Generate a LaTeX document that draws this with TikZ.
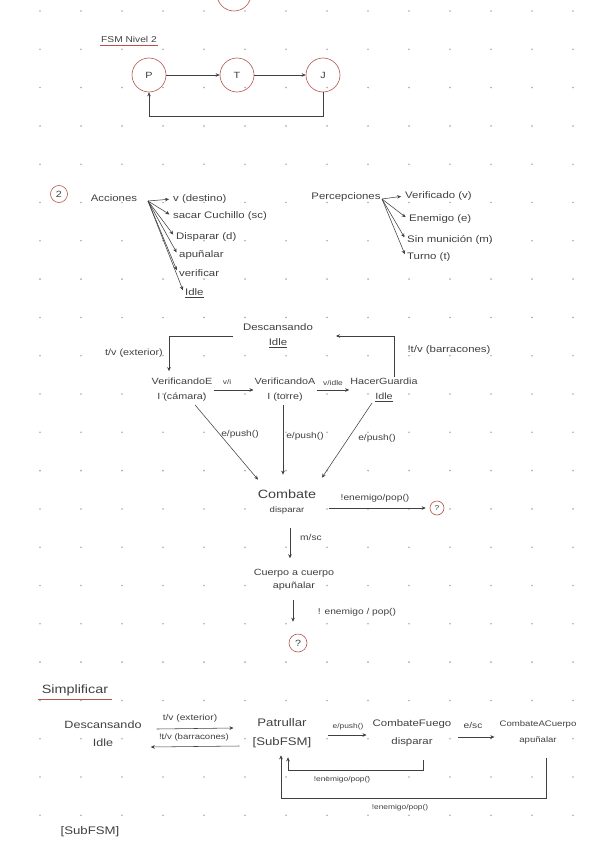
\documentclass[tikz,border=0pt]{standalone}
\usepackage{fontspec}
\setmainfont{Liberation Sans}[FakeStretch=1.2]
\usetikzlibrary{arrows.meta,calc}
\definecolor{ink}{HTML}{404040}
\definecolor{redc}{HTML}{B5534C}
\definecolor{dotc}{HTML}{ABABAB}
\tikzset{
  txt/.style={font=\fontsize{9.5}{14}\selectfont, text=ink, inner sep=1pt, align=center},
  sml/.style={txt, font=\fontsize{8.5}{10}\selectfont},
  tny/.style={txt, font=\fontsize{7}{8}\selectfont},
  st/.style={txt, font=\fontsize{9}{15}\selectfont},
  statec/.style={circle, draw=redc, line width=0.6pt, minimum size=34pt, inner sep=0pt, font=\fontsize{9}{10}\selectfont, text=ink},
  ln/.style={draw=ink, line width=0.55pt},
  arr/.style={ln, -{Stealth[length=4pt,width=3.6pt]}},
  redline/.style={draw=redc, line width=0.6pt},
}
\begin{document}
\begin{tikzpicture}[x=1pt,y=-1pt]
\useasboundingbox (0,0) rectangle (600,848);
% dot grid
\foreach \i in {0,...,13}{\foreach \j in {0,...,21}{\fill[dotc] ({40+41*\i},{11+38.3*\j}) circle (0.9pt);}}

% ---------- FSM Nivel 2 ----------
\node[statec] (top) at (234,-6) {};
\node[txt, font=\fontsize{8.5}{10}\selectfont] (fsm) at (129,39) {FSM Nivel 2};
\draw[redline] ([yshift=-1.5pt]fsm.south west) -- ([yshift=-1.5pt]fsm.south east);
\node[statec] (P) at (149,75) {P};
\node[statec] (T) at (237,75) {T};
\node[statec] (J) at (323,75) {J};
\draw[arr] (P) -- (T);
\draw[arr] (T) -- (J);
\draw[arr] (J.south) -- ++(0,24) -| (P.south);

% ---------- Acciones ----------
\node[statec, minimum size=17pt] (two) at (59,194) {2};
\node[txt] (acc) at (114,198) {Acciones};
\coordinate (ao) at (148,201);
\node[txt, anchor=west] (a1) at (172,199) {v (destino)};
\node[txt, anchor=west] (a2) at (172,216) {sacar Cuchillo (sc)};
\node[txt, anchor=west] (a3) at (175,237) {Disparar (d)};
\node[txt, anchor=west] (a4) at (178,255) {apuñalar};
\node[txt, anchor=west] (a5) at (178,273) {verificar};
\node[txt, anchor=west] (a6) at (184,293) {\underline{Idle}};
\foreach \n in {a1,a2,a3,a4,a5,a6}{\draw[arr, shorten >=3pt] (ao) -- (\n.west);}

% ---------- Percepciones ----------
\node[txt] (per) at (346,197) {Percepciones};
\coordinate (po) at (382,199);
\node[txt, anchor=west] (p1) at (404,196) {Verificado (v)};
\node[txt, anchor=west] (p2) at (408,219) {Enemigo (e)};
\node[txt, anchor=west] (p3) at (406,240) {Sin munición (m)};
\node[txt, anchor=west] (p4) at (406,257) {Turno (t)};
\foreach \n in {p1,p2,p3,p4}{\draw[arr, shorten >=3pt] (po) -- (\n.west);}

% ---------- state diagram ----------
\node[txt, font=\fontsize{9.5}{15}\selectfont] (desc) at (278,336) {Descansando\\\underline{Idle}};
\node[st] (ve) at (182,390) {VerificandoE\\I (cámara)};
\node[st] (va) at (285,390) {VerificandoA\\I (torre)};
\node[st] (hg) at (384,390) {HacerGuardia\\\underline{Idle}};
\draw[arr, shorten >=6pt] ([xshift=-9pt]desc.west) -| ([xshift=-13pt]ve.north);
\draw[arr] ([xshift=10pt]hg.north) |- ([xshift=22pt]desc.east);
\node[txt, font=\fontsize{9}{10}\selectfont] (lext) at (134,353) {t/v (exterior)};
\node[txt] (lbar) at (449,350) {!t/v (barracones)};
\draw[arr] (ve.east) -- (va.west);
\node[tny] (lvi) at (227,382) {v/i};
\draw[arr] (va.east) -- (hg.west);
\node[tny] (lvidle) at (333,383) {v/idle};

\node[txt, font=\fontsize{12}{14}\selectfont] (comb) at (287,502) {Combate\\{\fontsize{8}{10}\selectfont disparar}};
\draw[arr] ($(ve.south)+(13,2)$) -- ($(comb.north)+(-29,-9)$);
\draw[arr] ($(va.south)+(-2,2)$) -- ($(comb.north)+(-4,-14)$);
\draw[arr] ($(hg.south)+(-12,0)$) -- ($(comb.north)+(35,-11)$);
\node[sml] (lp1) at (240,434) {e/push()};
\node[sml] (lp2) at (305,436) {e/push()};
\node[sml] (lp3) at (377,438) {e/push()};

\node[statec, minimum size=14pt, font=\fontsize{7}{8}\selectfont] (q1) at (437,508) {?};
\draw[arr, shorten >=4pt] ($(comb.east)+(12,6)$) -- (q1.west);
\node[sml] (lpop1) at (375,498) {!enemigo/pop()};

\node[txt, font=\fontsize{9}{13}\selectfont] (cac) at (294,580) {Cuerpo a cuerpo\\apuñalar};
\draw[arr] ($(comb.south)+(3,13)$) -- ($(cac.north)+(-4,-10)$);
\node[sml] (lmsc) at (311,537) {m/sc};
\node[statec, minimum size=18pt] (q2) at (298,643) {?};
\draw[arr] ($(cac.south)+(-1,8)$) -- ($(q2.north)+(-5,-12)$);
\node[sml] (lpop2) at (357,612) {! enemigo / pop()};

% ---------- Simplificar ----------
\node[txt, font=\fontsize{12}{14}\selectfont] (simp) at (75,690) {Simplificar};
\draw[redline] ([xshift=-3pt,yshift=-2pt]simp.south west) -- ([xshift=3pt,yshift=-2pt]simp.south east);
\node[txt, font=\fontsize{10.5}{18}\selectfont] (desc2) at (103,734) {Descansando\\Idle};
\node[txt, font=\fontsize{11}{19}\selectfont] (pat) at (282,733) {Patrullar\\{[SubFSM]}};
\node[txt, font=\fontsize{9.5}{18}\selectfont] (cf) at (412,733) {CombateFuego\\disparar};
\node[txt, font=\fontsize{8}{16}\selectfont] (cac2) at (538,732) {CombateACuerpo\\apuñalar};

\draw[arr] ($(desc2.east)+(14,-5)$) -- ($(pat.west)+(-18,-5)$);
\node[txt, font=\fontsize{8.5}{10}\selectfont] (lt2) at (190,718) {t/v (exterior)};
\draw[arr] ($(pat.west)+(-12,13)$) -- ($(desc2.east)+(8,13)$);
\node[txt, font=\fontsize{8}{10}\selectfont] (lb2) at (194,737) {!t/v (barracones)};

\draw[arr] ($(pat.east)+(15,2)$) -- ($(cf.west)+(-5,2)$);
\node[tny] (lpush2) at (348,727) {e/push()};
\draw[arr] ($(cf.east)+(6,4)$) -- ($(cac2.west)+(-4,5)$);
\node[sml] (lesc) at (473,725) {e/sc};

\draw[arr] ($(cf.south)+(11,12)$) -- ++(0,11) -| ($(pat.south)+(6,8.5)$);
\node[tny] (lr1) at (342,780) {!enemigo/pop()};
\draw[arr] ($(cac2.south)+(8,13)$) -- ++(0,40) -| ($(pat.south)+(-1,6.5)$);
\node[tny] (lr2) at (400,808) {!enemigo/pop()};

\node[txt, font=\fontsize{11}{12}\selectfont] (sub) at (90,832) {[SubFSM]};
\end{tikzpicture}
\end{document}
